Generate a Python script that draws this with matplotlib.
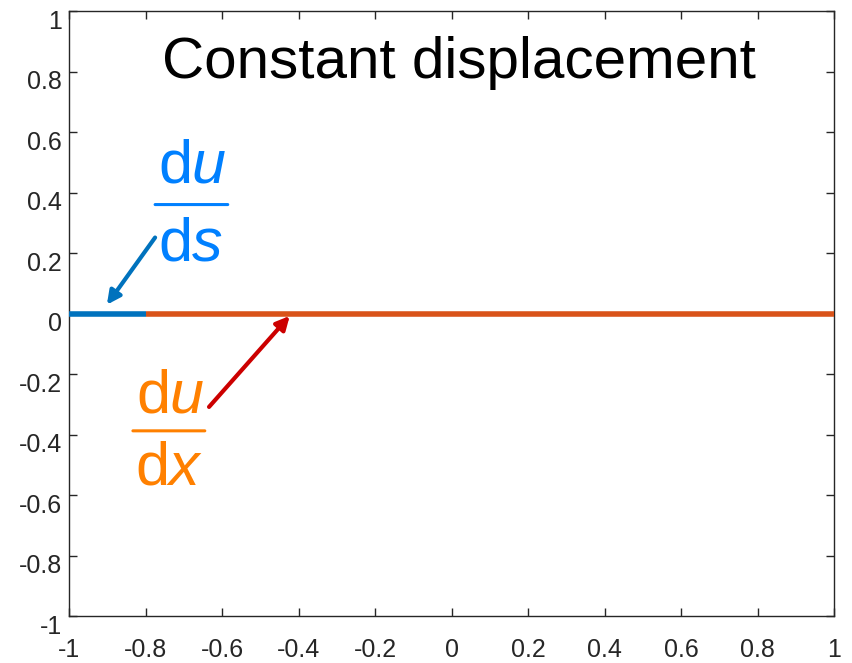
import numpy as np
import matplotlib
matplotlib.use("Agg")
import matplotlib.pyplot as plt
from matplotlib.transforms import ScaledTranslation

plt.rcParams['font.family'] = ['Liberation Sans', 'DejaVu Sans']
plt.rcParams['mathtext.fontset'] = 'custom'
plt.rcParams['mathtext.rm'] = 'Liberation Sans'
plt.rcParams['mathtext.it'] = 'Liberation Sans:italic'

# data
ds_x = [-1.0, -0.8]
ds_y = [0.0, 0.0]
dx_x = [-0.8, 1.0]
dx_y = [0.0, 0.0]
ticks = [-1, -0.8, -0.6, -0.4, -0.2, 0, 0.2, 0.4, 0.6, 0.8, 1]
tick_labels = ['-1', '-0.8', '-0.6', '-0.4', '-0.2', '0', '0.2', '0.4', '0.6', '0.8', '1']

blue_line = '#0072BD'
orange_line = '#D95319'
blue_text = '#0080FF'
orange_text = '#FF8000'
red_arrow = '#CC0000'

fig = plt.figure(figsize=(8.52, 6.63), dpi=100)
ax = fig.add_axes([0.081, 0.0705, 0.898, 0.9125])

ax.plot(ds_x, ds_y, color=blue_line, lw=4, solid_capstyle='butt', zorder=3)
ax.plot(dx_x, dx_y, color=orange_line, lw=4, solid_capstyle='butt', zorder=3)

ax.set_xlim(-1, 1)
ax.set_ylim(-1, 1)
ax.set_xticks(ticks)
ax.set_xticklabels(tick_labels)
ax.set_yticks(ticks)
ax.set_yticklabels(tick_labels)
ax.tick_params(direction='in', length=6, width=1, labelsize=18, colors='#262626',
               top=True, right=True)
ax.tick_params(axis='x', pad=16)
ax.tick_params(axis='y', pad=5)
# MATLAB style: y labels sit a little below their ticks
offset = ScaledTranslation(0, -8 / 100, fig.dpi_scale_trans)
for lab in ax.get_yticklabels():
    lab.set_transform(lab.get_transform() + offset)
for s in ax.spines.values():
    s.set_color('#262626')
    s.set_linewidth(1)

ax.text(0.02, 0.78, 'Constant displacement', fontsize=42, ha='center', va='baseline')

# du/ds label (blue)
ax.text(-0.678, 0.434, r'd$u$', fontsize=44, color=blue_text, ha='center', va='baseline')
ax.annotate('', xy=(-0.585, 0.361), xytext=(-0.775, 0.361),
            arrowprops=dict(arrowstyle='-', color=blue_text, lw=2.2, shrinkA=0, shrinkB=0))
ax.text(-0.682, 0.175, r'd$s$', fontsize=44, color=blue_text, ha='center', va='baseline')
ax.annotate('', xy=(-0.901, 0.03), xytext=(-0.775, 0.252),
            arrowprops=dict(arrowstyle='-|>,head_length=0.8,head_width=0.4', color=blue_line,
                            lw=3, shrinkA=0, shrinkB=0))

# du/dx label (orange)
ax.text(-0.736, -0.328, r'd$u$', fontsize=44, color=orange_text, ha='center', va='baseline')
ax.annotate('', xy=(-0.645, -0.387), xytext=(-0.833, -0.387),
            arrowprops=dict(arrowstyle='-', color=orange_text, lw=2.2, shrinkA=0, shrinkB=0))
ax.text(-0.738, -0.566, r'd$x$', fontsize=44, color=orange_text, ha='center', va='baseline')
ax.annotate('', xy=(-0.423, -0.007), xytext=(-0.634, -0.308),
            arrowprops=dict(arrowstyle='-|>,head_length=0.8,head_width=0.4', color=red_arrow,
                            lw=3, shrinkA=0, shrinkB=0))

fig.savefig('out.png', dpi=100)
